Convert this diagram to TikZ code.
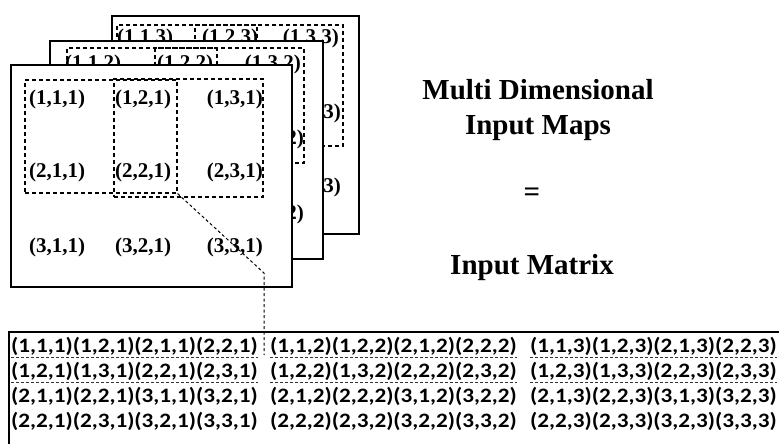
\documentclass[tikz,border=0pt]{standalone}
\usepackage{fontspec}
\setmainfont{Liberation Serif}
\newfontfamily\calfont[FakeStretch=1.13]{Carlito}
\usetikzlibrary{fit}
\begin{document}
\begin{tikzpicture}[x=1pt,y=-1pt,
 page/.style={draw=black, line width=2.4pt, fill=white, inner sep=0pt},
 dbox/.style={draw=black, dash pattern=on 4pt off 3pt, line width=1.1pt, inner sep=0pt},
 lab/.style={font=\fontsize{21}{24}\selectfont\bfseries, inner sep=0pt},
 labe/.style={lab, anchor=east},
 big/.style={font=\fontsize{29}{35}\selectfont\bfseries, align=center, inner sep=0pt},
 mtx/.style={font=\calfont\fontsize{20.5}{24}\selectfont\bfseries, anchor=west, inner sep=0pt},
 uline/.style={draw=black!80, dash pattern=on 3pt off 2pt, line width=0.9pt},
 conn/.style={draw=black, dash pattern=on 3pt off 2.5pt, line width=1pt},
 mframe/.style={draw=black, line width=2.6pt}]
\useasboundingbox (0,0) rectangle (779,444);
\fill[white] (0,0) rectangle (779,444);
% back page
\node[page, fit={(112,16) (359,234)}] (pB) {};
\node[dbox, fit={(117,25) (257,143)}] (bA) {};
\node[dbox, fit={(195,25) (343,146)}] (bB) {};
\node[lab] (b11) at (145,38) {(1,1,3)};
\node[lab] (b12) at (230,38) {(1,2,3)};
\node[labe] (b13) at (339,38) {(1,3,3)};
\node[lab] (b21) at (145,113) {(2,1,3)};
\node[lab] (b22) at (230,113) {(2,2,3)};
\node[labe] (b23) at (341,113) {(2,3,3)};
\node[lab] (b31) at (145,187) {(3,1,3)};
\node[lab] (b32) at (230,187) {(3,2,3)};
\node[labe] (b33) at (341,187) {(3,3,3)};
% middle page
\node[page, fit={(50,41) (323,259)}] (pM) {};
\node[dbox, fit={(67,48) (217,160)}] (mA) {};
\node[dbox, fit={(155,48) (304,163)}] (mB) {};
\node[lab] (c11) at (93,64) {(1,1,2)};
\node[lab] (c12) at (185,64) {(1,2,2)};
\node[labe] (c13) at (301,64) {(1,3,2)};
\node[lab] (c21) at (93,139) {(2,1,2)};
\node[lab] (c22) at (185,139) {(2,2,2)};
\node[labe] (c23) at (304,139) {(2,3,2)};
\node[lab] (c31) at (93,214) {(3,1,2)};
\node[lab] (c32) at (185,214) {(3,2,2)};
\node[labe] (c33) at (304,214) {(3,3,2)};
% front page
\node[page, fit={(11,65) (292,287)}] (pF) {};
\node[dbox, fit={(25,80) (177,193)}] (fA) {};
\node[dbox, fit={(114,79) (263,197)}] (fB) {};
\node[lab] (f11) at (57,99) {(1,1,1)};
\node[lab] (f12) at (143,99) {(1,2,1)};
\node[labe] (f13) at (263,99) {(1,3,1)};
\node[lab] (f21) at (57,172) {(2,1,1)};
\node[lab] (f22) at (143,172) {(2,2,1)};
\node[labe] (f23) at (263,172) {(2,3,1)};
\node[lab] (f31) at (57,247) {(3,1,1)};
\node[lab] (f32) at (143,247) {(3,2,1)};
\node[labe] (f33) at (263,247) {(3,3,1)};
% titles
\node[big] (title) at (538,110) {Multi Dimensional\\Input Maps};
\node[big] (eq) at (532,195) {=};
\node[big] (imat) at (532,268) {Input Matrix};
% matrix frame
\coordinate (mtr) at (779,332);
\coordinate (mbl) at (9,444);
\draw[mframe] (mtr) -| (mbl);
% matrix text
\node[mtx] (m11) at (11,346) {(1,1,1)(1,2,1)(2,1,1)(2,2,1)};
\node[mtx] (m21) at (11,371) {(1,2,1)(1,3,1)(2,2,1)(2,3,1)};
\node[mtx] (m31) at (11,396) {(2,1,1)(2,2,1)(3,1,1)(3,2,1)};
\node[mtx] (m41) at (11,421) {(2,2,1)(2,3,1)(3,2,1)(3,3,1)};
\node[mtx] (m12) at (270,346) {(1,1,2)(1,2,2)(2,1,2)(2,2,2)};
\node[mtx] (m22) at (270,371) {(1,2,2)(1,3,2)(2,2,2)(2,3,2)};
\node[mtx] (m32) at (270,396) {(2,1,2)(2,2,2)(3,1,2)(3,2,2)};
\node[mtx] (m42) at (270,421) {(2,2,2)(2,3,2)(3,2,2)(3,3,2)};
\node[mtx] (m13) at (530,346) {(1,1,3)(1,2,3)(2,1,3)(2,2,3)};
\node[mtx] (m23) at (530,371) {(1,2,3)(1,3,3)(2,2,3)(2,3,3)};
\node[mtx] (m33) at (530,396) {(2,1,3)(2,2,3)(3,1,3)(3,2,3)};
\node[mtx] (m43) at (530,421) {(2,2,3)(2,3,3)(3,2,3)(3,3,3)};
\foreach \n in {m11,m21,m12,m22,m13,m23}
  \draw[uline] ([yshift=-11pt]\n.west) -- ([yshift=-11pt]\n.east);
% connector
\coordinate (cbend) at (264,273);
\coordinate (cend) at (264,355);
\draw[conn] (fA.south east) -- (cbend) -- (cend);
\end{tikzpicture}
\end{document}
